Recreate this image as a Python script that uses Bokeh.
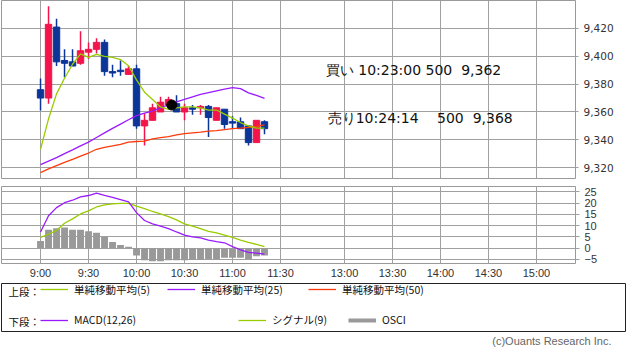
from bokeh.plotting import figure
from bokeh.models import (Range1d, FixedTicker, NumeralTickFormatter, Label, Legend,
                          LegendItem, Title, ColumnDataSource)
from bokeh.layouts import column
from bokeh.embed import file_html
from bokeh.resources import INLINE

# ---------------- data ----------------
# bar time in minutes after 9:00 (5-minute bars, 9:00 .. 11:20)
times = [0, 5, 10, 15, 20, 25, 30, 35, 40, 45, 50, 55, 60, 65, 70, 75, 80, 85,
         90, 95, 100, 105, 110, 115, 120, 125, 130, 135, 140]
opens = [9376, 9370, 9421, 9397, 9396, 9395, 9403, 9405, 9410, 9389, 9390, 9387, 9391, 9350,
         9354, 9360, 9365, 9366, 9360, 9363, 9363, 9364, 9354, 9362, 9353, 9353, 9350, 9338, 9353]
highs = [9384, 9436, 9427, 9405, 9405, 9418, 9410, 9413, 9412, 9394, 9397, 9393, 9394, 9359,
         9366, 9371, 9371, 9372, 9366, 9365, 9365, 9365, 9363, 9362, 9357, 9356, 9350, 9354, 9354]
lows = [9361, 9366, 9393, 9385, 9393, 9394, 9398, 9402, 9386, 9385, 9386, 9387, 9348, 9336,
        9354, 9360, 9364, 9360, 9354, 9358, 9358, 9342, 9354, 9348, 9348, 9348, 9336, 9338, 9344]
closes = [9370, 9423, 9396, 9395, 9393, 9404, 9405, 9410, 9389, 9388, 9389, 9391, 9350, 9354,
          9363, 9367, 9369, 9360, 9363, 9362, 9364, 9356, 9363, 9351, 9352, 9348, 9338, 9354, 9348]
sma5 = [9333.2, 9355.1, 9373.0, 9384.2, 9394.3, 9401.7, 9399.2, 9401.4, 9399.9, 9399.2,
        9397.7, 9393.2, 9383.1, 9374.2, 9369.0, 9363.6, 9361.8, 9363.0, 9363.6, 9363.6,
        9363.0, 9361.4, 9361.4, 9358.5, 9355.6, 9352.4, 9350.0, 9348.4, 9348.4]
sma25 = [9322.2, 9324.7, 9327.2, 9330.1, 9332.8, 9335.6, 9338.3, 9341.7, 9345.0, 9348.2,
         9351.3, 9354.4, 9357.4, 9359.1, 9360.7, 9363.0, 9365.2, 9367.2, 9369.0, 9370.8,
         9372.6, 9373.9, 9375.2, 9376.4, 9377.5, 9376.8, 9373.7, 9371.9, 9369.7]
sma50 = [9316.4, 9319.1, 9321.5, 9323.8, 9326.0, 9328.3, 9330.5, 9333.2, 9334.6, 9335.6,
         9336.8, 9338.3, 9338.8, 9339.0, 9340.6, 9341.5, 9342.3, 9343.5, 9344.4, 9345.0,
         9345.5, 9346.2, 9346.6, 9347.3, 9348.0, 9348.4, 9348.9, 9349.7, 9350.7]
macd = [7.2, 14.4, 18.0, 20.2, 21.3, 22.8, 23.4, 24.5, 23.5, 22.6, 21.6, 20.6, 15.8, 12.3,
        10.8, 9.8, 8.7, 7.2, 5.8, 5.0, 4.6, 3.6, 2.9, 2.4, 0.7, -0.7, -1.9, -2.2, -2.6]
signal = [4.8, 6.2, 7.9, 11.1, 13.0, 15.2, 16.6, 18.3, 19.2, 19.7, 19.9, 19.9, 18.7, 17.6,
          16.3, 15.2, 14.0, 12.6, 10.8, 9.8, 8.7, 7.5, 6.8, 5.8, 4.8, 3.6, 2.6, 1.7, 0.7]
osci = [3.2, 8.2, 8.9, 9.2, 8.2, 8.2, 7.5, 6.9, 5.0, 2.7, 1.4, 0.6, -3.2, -5.4,
        -5.8, -5.8, -5.4, -5.4, -5.4, -5.1, -5.1, -4.8, -4.8, -4.3, -4.3, -4.3, -4.8, -3.6, -3.2]
# session axis (lunch break compressed): positions in minutes
tick_pos = [0, 30, 60, 90, 120, 150, 190, 220, 250, 280, 310]
tick_labels = ["9:00", "9:30", "10:00", "10:30", "11:00", "11:30",
               "13:00", "13:30", "14:00", "14:30", "15:00"]
price_ticks = [9320, 9340, 9360, 9380, 9400, 9420]
osc_ticks = [-5, 0, 5, 10, 15, 20, 25]
trade_time = [82]
trade_price = [9365]
buy_text = "買い 10:23:00 500\u00a0\u00a09,362"
sell_text = "売り10:24:14\u3000\u00a0500\u00a0\u00a09,368"
buy_pos = (178.3, 9390.5)
sell_pos = (179.5, 9355.6)

UP = "#f2144b"
DOWN = "#0b3597"
C5 = "#99cc00"
C25 = "#9a1aff"
C50 = "#ff3b0a"
GRID = "#a0a0a0"
TXT = "#333333"

X0, X1 = -24.4, 334.4

# ---------------- upper panel ----------------
p1 = figure(frame_width=574, frame_height=178, x_range=Range1d(X0, X1),
            y_range=Range1d(9312.2, 9440.1), x_axis_location=None, y_axis_location="right",
            toolbar_location=None, output_backend="svg",
            min_border_left=1, min_border_right=51, min_border_top=0, min_border_bottom=8)
p1.outline_line_color = "#999999"
p1.xgrid.ticker = FixedTicker(ticks=tick_pos)
p1.ygrid.ticker = FixedTicker(ticks=price_ticks)
p1.grid.grid_line_color = GRID
p1.yaxis.ticker = FixedTicker(ticks=price_ticks)
p1.yaxis.formatter = NumeralTickFormatter(format="0,0")
p1.yaxis.axis_line_color = None
p1.yaxis.major_tick_line_color = GRID
p1.yaxis.major_tick_out = 3
p1.yaxis.major_tick_in = 0
p1.yaxis.minor_tick_line_color = None
p1.yaxis.major_label_standoff = 5
p1.yaxis.major_label_text_font = "DejaVu Sans"
p1.yaxis.major_label_text_font_size = "10.5px"
p1.yaxis.major_label_text_color = TXT

tops = [max(o, c) for o, c in zip(opens, closes)]
bots = [min(o, c) for o, c in zip(opens, closes)]
cols = [UP if c >= o else DOWN for o, c in zip(opens, closes)]
src = ColumnDataSource(dict(t=times, h=highs, l=lows, top=tops, bottom=bots, color=cols))
p1.segment(x0="t", y0="h", x1="t", y1="l", line_color="color", line_width=1.5, source=src)
p1.vbar(x="t", width=4, top="top", bottom="bottom", fill_color="color", line_color="color",
        source=src)
p1.line(times, sma50, line_color=C50, line_width=1.3)
p1.line(times, sma25, line_color=C25, line_width=1.3)
p1.line(times, sma5, line_color=C5, line_width=1.3)
p1.scatter(trade_time, trade_price, size=10, color="black")

for (tx, ty), txt in ((buy_pos, buy_text), (sell_pos, sell_text)):
    p1.add_layout(Label(x=tx, y=ty, text=txt, text_font="DejaVu Sans", text_font_size="14px",
                        text_color="#111111", text_baseline="middle"))

# ---------------- lower panel ----------------
p2 = figure(frame_width=574, frame_height=77, x_range=Range1d(X0, X1),
            y_range=Range1d(-6.8, 27.4), x_axis_location="below", y_axis_location="right",
            toolbar_location=None, output_backend="svg",
            min_border_left=1, min_border_right=51, min_border_top=0, min_border_bottom=17)
p2.outline_line_color = "#999999"
p2.grid.grid_line_color = GRID
p2.xgrid.ticker = FixedTicker(ticks=tick_pos)
p2.xaxis.ticker = FixedTicker(ticks=tick_pos)
p2.xaxis.major_label_overrides = {t: s for t, s in zip(tick_pos, tick_labels)}
p2.xaxis.axis_line_color = None
p2.xaxis.major_tick_line_color = None
p2.xaxis.minor_tick_line_color = None
p2.xaxis.major_tick_out = 0
p2.xaxis.major_label_standoff = 3
p2.xaxis.major_label_text_font = "Liberation Sans"
p2.xaxis.major_label_text_font_size = "11px"
p2.xaxis.major_label_text_color = TXT
p2.yaxis.ticker = FixedTicker(ticks=osc_ticks)
p2.ygrid.ticker = FixedTicker(ticks=osc_ticks)
p2.yaxis.axis_line_color = None
p2.yaxis.major_tick_line_color = GRID
p2.yaxis.major_tick_out = 4
p2.yaxis.major_tick_in = 0
p2.yaxis.minor_tick_line_color = None
p2.yaxis.major_label_standoff = 5
p2.yaxis.major_label_text_font = "Liberation Sans"
p2.yaxis.major_label_text_font_size = "11px"
p2.yaxis.major_label_text_color = TXT

p2.vbar(x=times, top=osci, bottom=0, width=4.3, fill_color="#999999", line_color=None)
p2.line(times, signal, line_color=C5, line_width=1.3)
p2.line(times, macd, line_color=C25, line_width=1.3)

# ---------------- legend panel ----------------
p3 = figure(frame_width=624, frame_height=48, x_range=Range1d(0, 624), y_range=Range1d(0, 48),
            x_axis_location=None, y_axis_location=None, toolbar_location=None,
            output_backend="svg", min_border_left=1, min_border_right=1,
            min_border_top=2, min_border_bottom=4)
p3.grid.visible = False
p3.outline_line_color = "#222222"

legend_rows = [
    ("上段：", 40.3, [("単純移動平均(5)", C5, 1.3, 39), ("単純移動平均(25)", C25, 1.3, 166),
                    ("単純移動平均(50)", C50, 1.3, 307)]),
    ("下段：", 9.6, [("MACD(12,26)", C25, 1.3, 39), ("シグナル(9)", C5, 1.3, 237),
                    ("OSCI", "#999999", 4, 347)]),
]
# legend-only renderers: placed outside the visible range so that only their legend glyph shows
hidden_x = [-50, -40]
hidden_y = [-50, -50]
for head, yc, items in legend_rows:
    p3.add_layout(Label(x=7, y=yc, text=head, text_font="Noto Sans CJK JP",
                        text_font_size="10.5px", text_color="#111111", text_baseline="middle"))
    for lab, col, lw, lx in items:
        r = p3.line(hidden_x, hidden_y, line_color=col, line_width=lw)
        p3.add_layout(Legend(items=[LegendItem(label=lab, renderers=[r])],
                             location=(lx, yc - 6), orientation="horizontal", padding=0,
                             margin=0, border_line_color=None, background_fill_alpha=0,
                             glyph_width=28, glyph_height=12, label_height=12,
                             label_standoff=6, label_text_font="Noto Sans CJK JP",
                             label_text_font_size="10.5px", label_text_color="#111111"))

p3.add_layout(Title(text="(c)Ouants Research Inc.", align="right", offset=14,
                    text_font="Liberation Sans", text_font_size="11px",
                    text_font_style="normal", text_color="#666666", standoff=2), "below")

layout = column(p1, p2, p3, spacing=0)
open("out.html", "w").write(file_html(layout, INLINE))
